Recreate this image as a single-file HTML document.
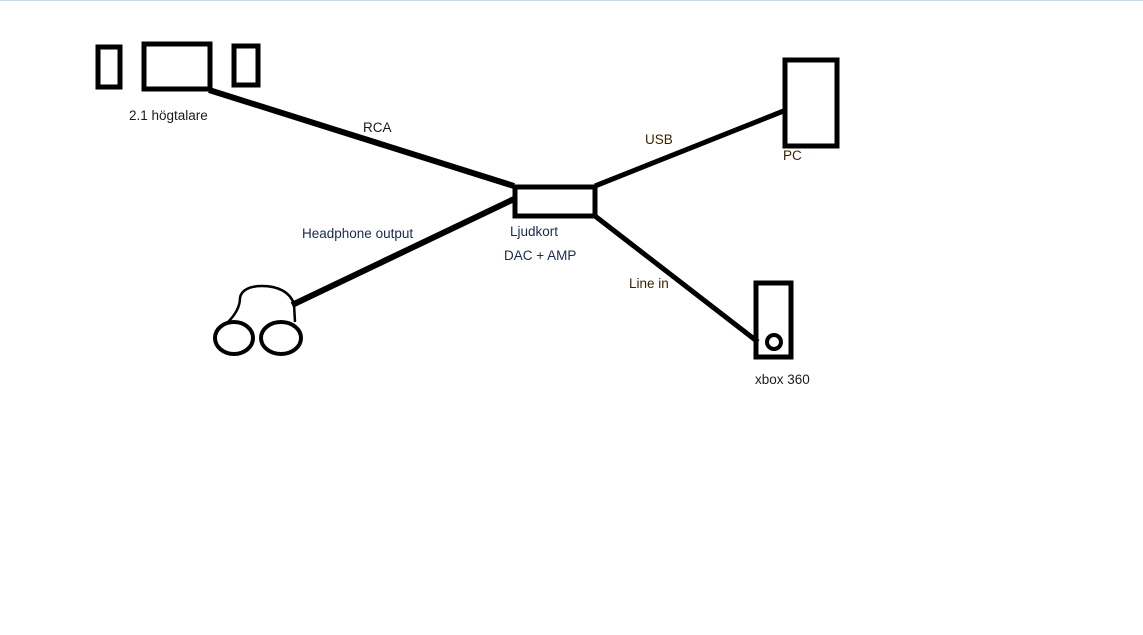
<!DOCTYPE html>
<html><head><meta charset="utf-8"><style>
html,body{margin:0;padding:0;background:#fff;}
svg{display:block}
text{font-family:"Liberation Sans",sans-serif;font-size:13.5px;}
</style></head><body>
<svg width="1143" height="635" viewBox="0 0 1143 635">
<line x1="0" y1="0.5" x2="1143" y2="0.5" stroke="#c8d8e8" stroke-width="1"/>
<g fill="none" stroke="#000" stroke-width="5">
<rect x="98" y="47" width="22" height="40"/>
<rect x="144" y="44" width="66" height="45"/>
<rect x="234" y="46" width="24" height="39"/>
<rect x="515" y="187" width="80" height="29"/>
<rect x="785" y="60" width="52" height="86"/>
<rect x="756" y="283" width="35" height="74"/>
<line x1="209" y1="90" x2="514" y2="186" stroke-width="6"/>
<line x1="514" y1="199" x2="292" y2="305" stroke-width="6"/>
<line x1="595" y1="186" x2="786" y2="110" stroke-width="5"/>
<line x1="595" y1="216" x2="758" y2="342" stroke-width="5"/>
<ellipse cx="234" cy="338" rx="19" ry="16" stroke-width="4"/>
<ellipse cx="281" cy="338" rx="20" ry="16" stroke-width="4"/>
<circle cx="774" cy="342" r="7" stroke-width="4"/>
<path d="M228,322 C236,314 240,306 240,298 C241,290 250,286 262,286 C278,286 290,292 294,304 L295,322" stroke-width="2.5"/>
</g>
<text x="129" y="120" fill="#1a1a1a">2.1 högtalare</text>
<text x="363" y="132" fill="#1a1a1a">RCA</text>
<text x="645" y="144" fill="#3a2200">USB</text>
<text x="783" y="160" fill="#3a2200">PC</text>
<text x="302" y="238" fill="#1a2a4a">Headphone output</text>
<text x="510" y="236" fill="#1a2a4a">Ljudkort</text>
<text x="504" y="260" fill="#1a2a4a">DAC + AMP</text>
<text x="629" y="288" fill="#3a2200">Line in</text>
<text x="755" y="384" fill="#1a1a1a">xbox 360</text>
</svg>
</body></html>
